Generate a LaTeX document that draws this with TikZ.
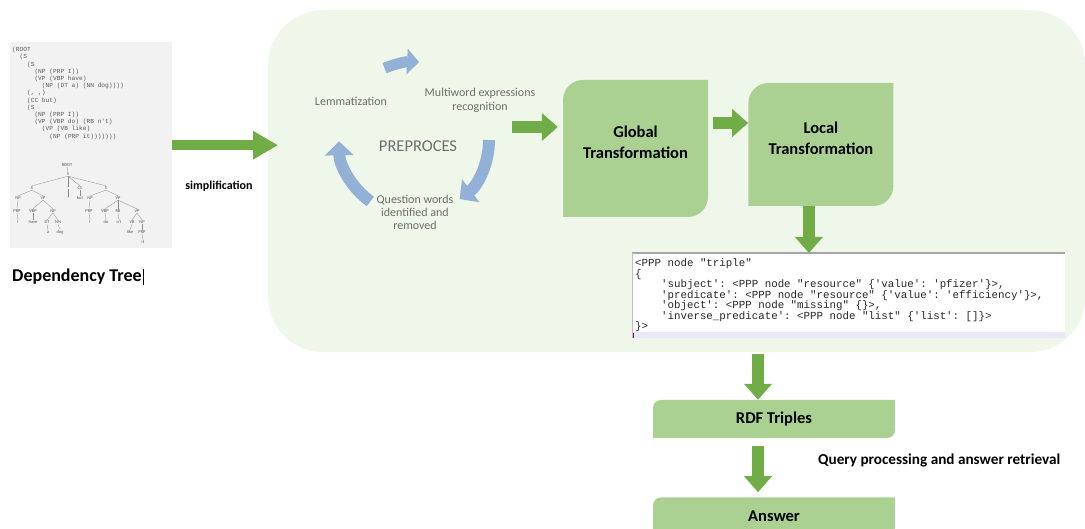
\documentclass[tikz,border=0pt]{standalone}
\usepackage{fontspec}
\setmainfont{Carlito}
\setmonofont{Liberation Mono}
\usetikzlibrary{positioning, arrows.meta}

\definecolor{panelgrey}{RGB}{242,242,242}
\definecolor{panelgreen}{RGB}{239,246,234}
\definecolor{boxgreen}{RGB}{171,209,146}
\definecolor{arrowgreen}{RGB}{112,173,71}
\definecolor{cycleblue}{RGB}{147,177,214}
\definecolor{cycletext}{RGB}{110,110,110}
\definecolor{treegrey}{RGB}{90,90,90}
\definecolor{stripblue}{RGB}{232,232,250}

% one monospaced character width, and an indent of n of them
\newcommand\ms{\hspace*{0.6em}}
\newcommand\ind[1]{\hspace*{\dimexpr 0.6em*#1\relax}}

\tikzset {
    x=1pt, y=1pt,
    greenarrow/.style={draw=arrowgreen, line width=12pt, -{Triangle[width=27pt,length=16pt]}},
    cyclearrow/.style={draw=cycleblue, line width=12pt, -{Triangle[width=28pt,length=14pt]}},
    cyclelabel/.style={text=cycletext, font=\fontsize{12}{14}\selectfont, align=center},
    boxlabel/.style={font=\bfseries\fontsize{16.5}{21}\selectfont, align=center},
    monotext/.style 2 args={align=left, font=\ttfamily\fontsize{#1}{#2}\selectfont},
    diagbox/.style={inner sep=0pt, path picture={
        \fill[boxgreen] (path picture bounding box.south west)
            -- ([yshift=-#1]path picture bounding box.north west)
            arc[start angle=180, end angle=90, radius=#1]
            -- (path picture bounding box.north east)
            -- ([yshift=#1]path picture bounding box.south east)
            arc[start angle=0, end angle=-90, radius=#1] -- cycle;}},
    treetag/.style={text=treegrey, font=\fontsize{4.5}{4.5}\selectfont, inner sep=0.5pt},
    treeline/.style={draw=treegrey!70, line width=0.3pt}
}

\begin{document}
\begin{tikzpicture}
    \useasboundingbox (0,0) rectangle (1085,528);
    \clip (0,0) rectangle (1085,528);

    % parser output on the left
    \node[fill=panelgrey, minimum width=162, minimum height=206, anchor=north west] (treepanel) at (10,486) {};
    \node[monotext={6.2}{7.2}, anchor=north west, inner sep=0, text=treegrey] (parse) at (12,481) {%
        (ROOT\\
        \ind{2}(S\\
        \ind{4}(S\\
        \ind{6}(NP\ms (PRP\ms I))\\
        \ind{6}(VP\ms (VBP\ms have)\\
        \ind{8}(NP\ms (DT\ms a)\ms (NN\ms dog))))\\
        \ind{4}(,\ms ,)\\
        \ind{4}(CC\ms but)\\
        \ind{4}(S\\
        \ind{6}(NP\ms (PRP\ms I))\\
        \ind{6}(VP\ms (VBP\ms do)\ms (RB\ms n't)\\
        \ind{8}(VP\ms (VB\ms like)\\
        \ind{10}(NP\ms (PRP\ms it)))))))};

    \foreach \n/\x/\y/\t in {root/67/363/ROOT, s0/68/354/S, sa/32/340/S, cm/68/340/{,}, cc/80/340/CC,
        sb/106/340/S, cmw/68/330/{,}, but/80/330/but, npa/18/330/NP, vpa/43/330/VP,
        prpa/17/317/PRP, ia/18/306/I, vbpa/33/317/VBP, have/33/306/have, npb/53/317/NP,
        dt/47/306/DT, nn/58/306/NN, wa/48/296/a, dog/60/296/dog, npc/90/330/NP,
        prpc/89/317/PRP, ic/90/306/I, vpb/118/330/VP, vbpb/105/317/VBP, do/106/306/do,
        rb/118/317/RB, nt/119/306/n't, vpc/137/317/VP, vb/132/306/VB, like/130/296/like,
        npd/142/306/NP, prpd/142/296/PRP, it/143/286/it}
        \node[treetag] (\n) at (\x,\y) {\t};
    \foreach \a/\b in {root/s0, s0/sa, s0/cm, s0/cc, s0/sb, cm/cmw, cc/but, sa/npa, sa/vpa,
        npa/prpa, prpa/ia, vpa/vbpa, vpa/npb, vbpa/have, npb/dt, npb/nn, dt/wa, nn/dog,
        sb/npc, sb/vpb, npc/prpc, prpc/ic, vpb/vbpb, vpb/rb, vpb/vpc, vbpb/do, rb/nt,
        vpc/vb, vpc/npd, vb/like, npd/prpd, prpd/it}
        \draw[treeline] (\a.south) -- (\b.north);

    \node[anchor=west, inner sep=0, font=\bfseries\fontsize{18}{20}\selectfont] (dep) at (12,251) {Dependency Tree};
    \draw[line width=0.8pt] ([xshift=1]dep.north east) -- ([xshift=1]dep.south east);

    % main panel
    \node[fill=panelgreen, rounded corners=55, minimum width=817, minimum height=342, anchor=north west] (panel) at (268,518) {};

    \draw[greenarrow, line width=10pt, -{Triangle[width=27pt,length=25pt]}]
        (treepanel.east) -- ([xshift=10]treepanel.east -| panel.west);
    \node[font=\bfseries\fontsize{12}{14}\selectfont] (simp) at (219,342) {simplification};

    % preprocessing cycle
    \coordinate (cyc) at (415,388);
    \draw[cyclearrow, line width=11pt, -{Triangle[width=25pt,length=12pt]}]
        ([shift={(113:78)}]cyc) arc[start angle=113, end angle=87, radius=78];
    \draw[cyclearrow] ([shift={(0:74)}]cyc) arc[start angle=0, end angle=-53, radius=74];
    \draw[cyclearrow] ([shift={(234:76)}]cyc) arc[start angle=234, end angle=181, radius=76];

    \node[cyclelabel] (lem) at (351,427) {Lemmatization};
    \node[cyclelabel] (mwe) at (480,428) {Multiword expressions\\recognition};
    \node[cyclelabel, font=\fontsize{16.5}{19}\selectfont] (pre) at (418,382) {PREPROCES};
    \node[cyclelabel, font=\fontsize{12}{13}\selectfont] (qw) at (415,316) {Question words\\identified and\\removed};

    % transformations
    \node[diagbox=20, fill=panelgreen, minimum width=145, minimum height=137] (glob) at (635.5,379.5) {};
    \node[boxlabel] (globtxt) at ([yshift=6]glob.center) {Global\\Transformation};
    \node[diagbox=20, fill=panelgreen, minimum width=145, minimum height=123,
          right=40pt of glob.north east, anchor=north west, yshift=-3pt] (loc) {};
    \node[boxlabel] (loctxt) at ([yshift=6]loc.center) {Local\\Transformation};

    \coordinate (mweout) at (512,401);
    \draw[greenarrow, shorten >=5pt] (mweout) -- (mweout -| glob.west);
    \draw[greenarrow, shorten <=5pt] ([yshift=25.5]glob.east) -- ([yshift=21.5]loc.west);

    % output of the parser
    \node[monotext={10.8}{10.5}, fill=white, anchor=north west, minimum width=433, minimum height=85, text width=427,
          inner xsep=3pt, inner ysep=0pt, text=black!85] (code) at (632,275) {%
        <PPP\ms node\ms "triple"\\
        \{\\
        \ind{4}'subject':\ms <PPP\ms node\ms "resource"\ms \{'value':\ms 'pfizer'\}>,\\
        \ind{4}'predicate':\ms <PPP\ms node\ms "resource"\ms \{'value':\ms 'efficiency'\}>,\\
        \ind{4}'object':\ms <PPP\ms node\ms "missing"\ms \{\}>,\\
        \ind{4}'inverse\_predicate':\ms <PPP\ms node\ms "list"\ms \{'list':\ms []\}>\\
        \}>};
    \fill[stripblue] (code.south west) rectangle ([yshift=6]code.south east);
    \draw[gray!70, line width=1.5pt] (code.north west) -- (code.north east);
    \draw[gray!50, line width=0.6pt] (code.north west) -- (code.south west);
    \draw[violet, line width=0.8pt] ([xshift=1.5]code.south west) -- ++(0,5);

    \coordinate (locout) at ([xshift=-12]loc.south);
    \draw[greenarrow] (locout) -- (locout |- code.north);

    % results
    \node[diagbox=8, fill=white, minimum width=242, minimum height=38, boxlabel] (rdf) at (774,109) {RDF Triples};
    \node[diagbox=8, fill=white, minimum width=242, minimum height=38, boxlabel, below=59pt of rdf] (ans) {Answer};

    \coordinate (rdftop) at ([xshift=-16]rdf.north);
    \draw[greenarrow, shorten <=2pt] (rdftop |- panel.south) -- (rdftop);
    \draw[greenarrow, shorten <=8pt, shorten >=5pt] ([xshift=-16]rdf.south) -- ([xshift=-16]ans.north);

    \node[anchor=west, inner sep=0, font=\bfseries\fontsize{15.2}{17}\selectfont] (qlabel) at (818,68) {Query processing and answer retrieval};
\end{tikzpicture}
\end{document}
